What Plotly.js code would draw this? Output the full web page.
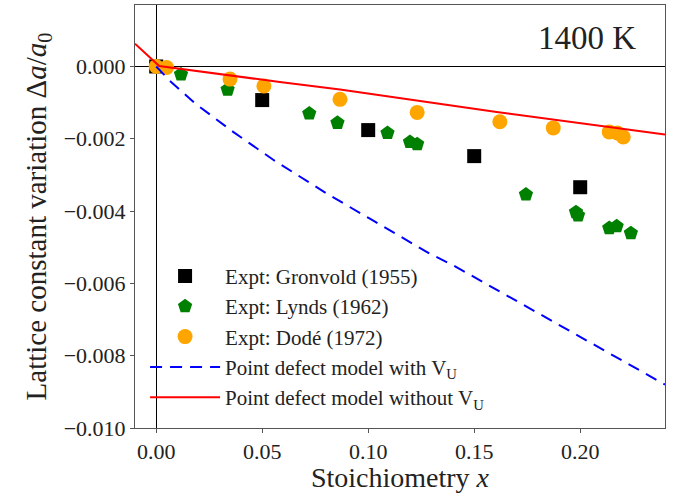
<!DOCTYPE html>
<html>
<head>
<meta charset="utf-8">
<script src="https://cdn.plot.ly/plotly-3.0.1.min.js"></script>
<style>html,body{margin:0;padding:0;background:#fff;}#chart{width:673px;height:493px;}</style>
</head>
<body>
<div id="chart"></div>
<script>
// Gronvold (1955)
const gronvoldX = [0, 0.05, 0.10, 0.15, 0.20];
const gronvoldY = [0, -0.00093, -0.00176, -0.00248, -0.00334];
// Lynds (1962)
const lyndsX = [0.0117, 0.0337, 0.0722, 0.0855, 0.1091, 0.1197, 0.1231, 0.1744, 0.198, 0.199, 0.2137, 0.2172, 0.2239];
const lyndsY = [-0.00022, -0.00064, -0.0013, -0.00156, -0.00184, -0.00209, -0.00215, -0.00354, -0.00403, -0.00412, -0.00447, -0.00442, -0.00461];
// Dodé (1972)
const dodeX = [0, 0.0049, 0.0348, 0.0508, 0.0867, 0.1231, 0.1621, 0.1873, 0.2137, 0.2175, 0.2203];
const dodeY = [0, -0.00003, -0.00035, -0.00054, -0.00091, -0.00127, -0.00153, -0.0017, -0.00181, -0.00184, -0.00195];
// Point defect model with V_U
const withVX = [0, 0.0065, 0.0183, 0.0363, 0.0552, 0.0811, 0.1008, 0.1291, 0.1401, 0.191, 0.24];
const withVY = [0, -0.0004, -0.00102, -0.00181, -0.00258, -0.00354, -0.00421, -0.00518, -0.0055, -0.00717, -0.0088];
// Point defect model without V_U
const withoutVX = [-0.01, 0.0014, 0.0583, 0.0867, 0.1606, 0.24];
const withoutVY = [0.00063, 0.00001, -0.00043, -0.00064, -0.00126, -0.00188];

const xTicks = [0, 0.05, 0.10, 0.15, 0.20];
const xTickText = ['0.00', '0.05', '0.10', '0.15', '0.20'];
const yTicks = [0, -0.002, -0.004, -0.006, -0.008, -0.010];
const yTickText = ['0.000', '\u22120.002', '\u22120.004', '\u22120.006', '\u22120.008', '\u22120.010'];

const FONT = 'Liberation Serif, Times New Roman, serif';

const traces = [
  {x: gronvoldX, y: gronvoldY, mode: 'markers', type: 'scatter', name: 'Expt: Gronvold (1955)',
   marker: {symbol: 'square', size: 14, color: '#000000'}},
  {x: lyndsX, y: lyndsY, mode: 'markers', type: 'scatter', name: 'Expt: Lynds (1962)',
   marker: {symbol: 'pentagon', size: 15, color: '#008000'}},
  {x: dodeX, y: dodeY, mode: 'markers', type: 'scatter', name: 'Expt: Dodé (1972)',
   marker: {symbol: 'circle', size: 15, color: '#FFA500'}},
  {x: withVX, y: withVY, mode: 'lines', type: 'scatter', name: 'Point defect model with V<sub>U</sub>',
   line: {color: '#0000FF', width: 2, dash: '12px,8px'}},
  {x: withoutVX, y: withoutVY, mode: 'lines', type: 'scatter', name: 'Point defect model without V<sub>U</sub>',
   line: {color: '#FF0000', width: 2}}
];

const layout = {
  width: 673, height: 493,
  margin: {l: 135, r: 8, t: 5, b: 65},
  paper_bgcolor: '#ffffff', plot_bgcolor: '#ffffff',
  font: {family: FONT, color: '#222222'},
  showlegend: true,
  legend: {
    x: 0.019, y: 0.407, xanchor: 'left', yanchor: 'top',
    bgcolor: 'rgba(0,0,0,0)', borderwidth: 0,
    font: {family: FONT, size: 21, color: '#222222'},
    itemwidth: 70, tracegroupgap: 0
  },
  xaxis: {
    range: [-0.01, 0.24], tickvals: xTicks, ticktext: xTickText,
    showgrid: false, zeroline: true, zerolinecolor: '#000000', zerolinewidth: 1,
    showline: true, mirror: true, linecolor: '#555555', linewidth: 1,
    ticks: 'outside', ticklen: 4, tickcolor: '#555555',
    tickfont: {family: FONT, size: 22, color: '#222222'},
    title: {text: 'Stoichiometry <i>x</i>', font: {family: FONT, size: 28, color: '#222222'}, standoff: 10}
  },
  yaxis: {
    range: [-0.010, 0.0017], tickvals: yTicks, ticktext: yTickText,
    showgrid: false, zeroline: true, zerolinecolor: '#000000', zerolinewidth: 1,
    showline: true, mirror: true, linecolor: '#555555', linewidth: 1,
    ticks: 'outside', ticklen: 4, tickcolor: '#555555',
    tickfont: {family: FONT, size: 22, color: '#222222'},
    title: {text: 'Lattice constant variation Δ<i>a</i>/<i>a</i><sub>0</sub>', font: {family: FONT, size: 29, color: '#222222'}, standoff: 8}
  },
  annotations: [{
    xref: 'paper', yref: 'paper', x: 0.949, y: 0.922, xanchor: 'right', yanchor: 'middle',
    text: '1400 K', showarrow: false, font: {family: FONT, size: 33, color: '#222222'}
  }]
};

Plotly.newPlot('chart', traces, layout, {displayModeBar: false, staticPlot: true});
</script>
</body>
</html>
